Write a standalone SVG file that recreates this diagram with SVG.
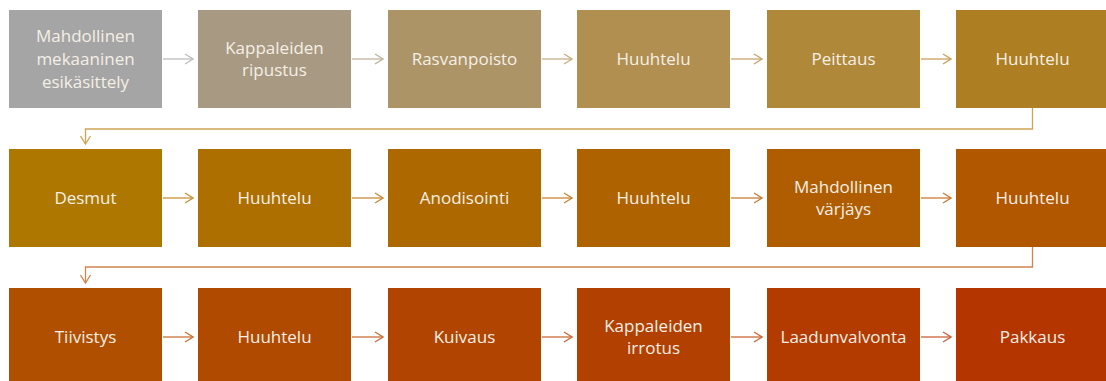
<svg xmlns="http://www.w3.org/2000/svg" width="1106" height="381" viewBox="0 0 1106 381">
<style>
.t{font-family:"Open Sans","Liberation Sans",sans-serif;font-size:17px;fill:#f4efe6;text-anchor:middle}
.c{fill:none;stroke-width:1.3}
</style>
<defs>
<marker id="a" viewBox="0 0 10 12" refX="9" refY="6" markerWidth="10" markerHeight="12" markerUnits="userSpaceOnUse" orient="auto"><path d="M1,1 L9,6 L1,11" fill="none" stroke="context-stroke" stroke-width="1.3"/></marker>
</defs>
<rect width="1106" height="381" fill="#fff"/>
<g id="connectors">
<path class="c" stroke="#bdbdbd" d="M163,59H193" marker-end="url(#a)"/>
<path class="c" stroke="#c2b49c" d="M352,59H383" marker-end="url(#a)"/>
<path class="c" stroke="#c6ae84" d="M542,59H572" marker-end="url(#a)"/>
<path class="c" stroke="#c8a56c" d="M731,59H762" marker-end="url(#a)"/>
<path class="c" stroke="#c99f5c" d="M921,59H951" marker-end="url(#a)"/>
<path class="c" stroke="#cfa456" d="M1032.5,108V129H85.5V144" marker-end="url(#a)"/>
<path class="c" stroke="#c9913a" d="M163,198H193" marker-end="url(#a)"/>
<path class="c" stroke="#c98a36" d="M352,198H383" marker-end="url(#a)"/>
<path class="c" stroke="#c98434" d="M542,198H572" marker-end="url(#a)"/>
<path class="c" stroke="#ca7e34" d="M731,198H762" marker-end="url(#a)"/>
<path class="c" stroke="#cb7a34" d="M921,198H951" marker-end="url(#a)"/>
<path class="c" stroke="#cf8550" d="M1032.5,247V267H85.5V283" marker-end="url(#a)"/>
<path class="c" stroke="#cb7236" d="M163,337H193" marker-end="url(#a)"/>
<path class="c" stroke="#cb6e36" d="M352,337H383" marker-end="url(#a)"/>
<path class="c" stroke="#cb6a36" d="M542,337H572" marker-end="url(#a)"/>
<path class="c" stroke="#cc6636" d="M731,337H762" marker-end="url(#a)"/>
<path class="c" stroke="#cc6236" d="M921,337H951" marker-end="url(#a)"/>
</g>
<g id="n1"><rect x="9" y="10" width="153" height="98" fill="#a5a5a5"/><text class="t" x="85.5"><tspan x="85.5" y="42">Mahdollinen</tspan><tspan x="85.5" y="65">mekaaninen</tspan><tspan x="85.5" y="88">esikäsittely</tspan></text></g>
<g id="n2"><rect x="198" y="10" width="153" height="98" fill="#a89a82"/><text class="t"><tspan x="274.5" y="54">Kappaleiden</tspan><tspan x="274.5" y="76">ripustus</tspan></text></g>
<g id="n3"><rect x="388" y="10" width="153" height="98" fill="#ac9466"/><text class="t" x="464.5" y="65">Rasvanpoisto</text></g>
<g id="n4"><rect x="577" y="10" width="153" height="98" fill="#b08f50"/><text class="t" x="653.5" y="65">Huuhtelu</text></g>
<g id="n5"><rect x="767" y="10" width="153" height="98" fill="#af883a"/><text class="t" x="843.5" y="65">Peittaus</text></g>
<g id="n6"><rect x="956" y="10" width="153" height="98" fill="#ad7f22"/><text class="t" x="1032.5" y="65">Huuhtelu</text></g>
<g id="n7"><rect x="9" y="149" width="153" height="98" fill="#ad7700"/><text class="t" x="85.5" y="204">Desmut</text></g>
<g id="n8"><rect x="198" y="149" width="153" height="98" fill="#ad6f00"/><text class="t" x="274.5" y="204">Huuhtelu</text></g>
<g id="n9"><rect x="388" y="149" width="153" height="98" fill="#ad6900"/><text class="t" x="464.5" y="204">Anodisointi</text></g>
<g id="n10"><rect x="577" y="149" width="153" height="98" fill="#ae6300"/><text class="t" x="653.5" y="204">Huuhtelu</text></g>
<g id="n11"><rect x="767" y="149" width="153" height="98" fill="#af5d00"/><text class="t"><tspan x="843.5" y="193">Mahdollinen</tspan><tspan x="843.5" y="215">värjäys</tspan></text></g>
<g id="n12"><rect x="956" y="149" width="153" height="98" fill="#b05700"/><text class="t" x="1032.5" y="204">Huuhtelu</text></g>
<g id="n13"><rect x="9" y="288" width="153" height="98" fill="#b04f00"/><text class="t" x="85.5" y="343">Tiivistys</text></g>
<g id="n14"><rect x="198" y="288" width="153" height="98" fill="#b04a00"/><text class="t" x="274.5" y="343">Huuhtelu</text></g>
<g id="n15"><rect x="388" y="288" width="153" height="98" fill="#b14500"/><text class="t" x="464.5" y="343">Kuivaus</text></g>
<g id="n16"><rect x="577" y="288" width="153" height="98" fill="#b24000"/><text class="t"><tspan x="653.5" y="332">Kappaleiden</tspan><tspan x="653.5" y="354">irrotus</tspan></text></g>
<g id="n17"><rect x="767" y="288" width="153" height="98" fill="#b33b00"/><text class="t" x="843.5" y="343">Laadunvalvonta</text></g>
<g id="n18"><rect x="956" y="288" width="153" height="98" fill="#b43500"/><text class="t" x="1032.5" y="343">Pakkaus</text></g>
</svg>
